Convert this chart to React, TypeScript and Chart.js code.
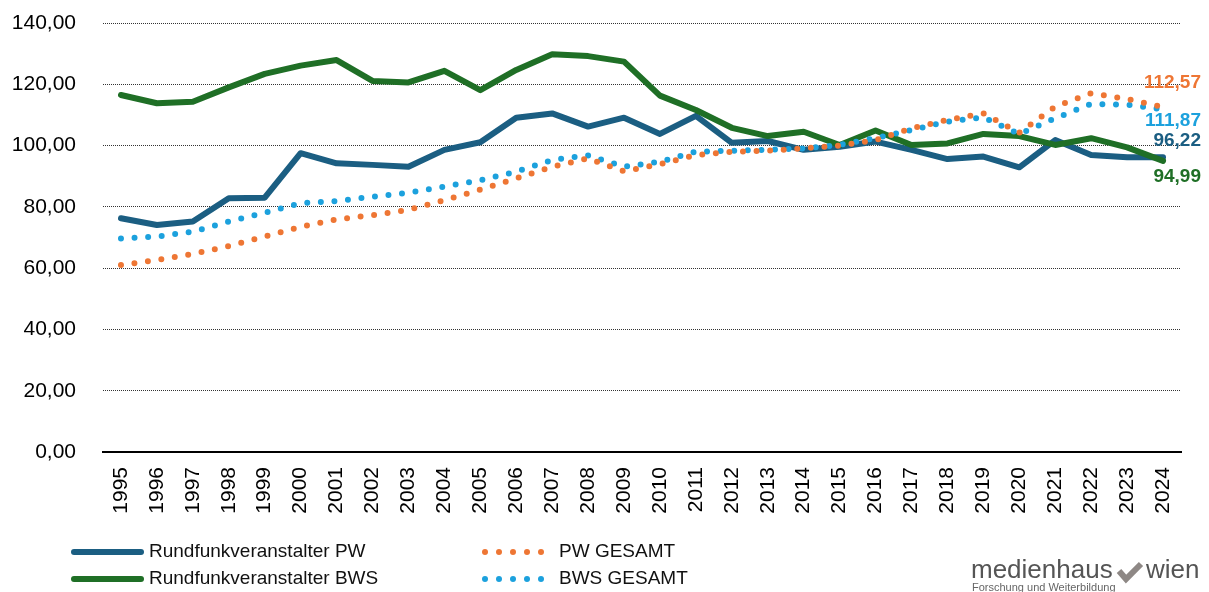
import React, { useEffect, useRef } from "react";
import { Chart, registerables } from "chart.js";

Chart.register(...registerables);

const years = [
  "1995", "1996", "1997", "1998", "1999", "2000", "2001", "2002", "2003", "2004",
  "2005", "2006", "2007", "2008", "2009", "2010", "2011", "2012", "2013", "2014",
  "2015", "2016", "2017", "2018", "2019", "2020", "2021", "2022", "2023", "2024",
];

const rundfunkPW = [
  76.3, 74.1, 75.2, 82.8, 83.0, 97.5, 94.2, 93.7, 93.1, 98.6,
  101.1, 109.1, 110.5, 106.2, 109.1, 103.8, 109.7, 100.9, 101.5, 98.6,
  99.6, 101.3, 98.6, 95.6, 96.4, 92.9, 101.8, 96.9, 96.2, 96.22,
];

const rundfunkBWS = [
  116.5, 113.8, 114.3, 119.0, 123.4, 126.1, 127.9, 121.1, 120.6, 124.4,
  118.1, 124.7, 129.8, 129.2, 127.4, 116.3, 111.6, 105.8, 103.1, 104.5,
  100.2, 104.9, 100.2, 100.7, 103.8, 103.1, 100.2, 102.4, 99.4, 94.99,
];

const pwGesamt = [
  61.0, 62.7, 64.6, 67.2, 70.3, 73.5, 75.9, 77.3, 79.0, 82.2,
  85.6, 89.3, 93.1, 95.8, 91.6, 93.9, 96.9, 98.0, 98.3, 99.1,
  100.0, 101.8, 105.6, 108.4, 110.5, 104.2, 112.7, 117.1, 115.2, 112.57,
];

const bwsGesamt = [
  69.7, 70.3, 71.9, 75.2, 78.1, 81.2, 81.9, 83.3, 84.6, 86.6,
  88.7, 91.5, 95.3, 96.8, 93.1, 94.7, 98.0, 98.3, 98.6, 99.1,
  100.2, 102.4, 105.1, 107.8, 109.2, 103.8, 108.9, 113.6, 113.3, 111.87,
];

const yTickValues = [0, 20, 40, 60, 80, 100, 120, 140];

const seriesNames = ["Rundfunkveranstalter PW", "Rundfunkveranstalter BWS", "PW GESAMT", "BWS GESAMT"];

const COLORS = {
  pw: "#1b5e82",
  bws: "#1f6f26",
  pwG: "#ee7634",
  bwsG: "#1ca1dd",
};

const fmt = (v: number) => v.toFixed(2).replace(".", ",");

// pixel offsets of the end-value labels relative to their last point
const endLabelOffsets = { pwG: -24, bwsG: 12, pw: -16, bws: 16 };

const FONT = "'Liberation Sans', Arial, sans-serif";

const overlayPlugin = {
  id: "overlay",
  afterDraw(chart: any) {
    const ctx = chart.ctx as CanvasRenderingContext2D;
    const yScale = chart.scales.y;
    ctx.save();

    // end value labels
    const ends = [
      { v: pwGesamt[pwGesamt.length - 1], c: COLORS.pwG, o: endLabelOffsets.pwG },
      { v: bwsGesamt[bwsGesamt.length - 1], c: COLORS.bwsG, o: endLabelOffsets.bwsG },
      { v: rundfunkPW[rundfunkPW.length - 1], c: COLORS.pw, o: endLabelOffsets.pw },
      { v: rundfunkBWS[rundfunkBWS.length - 1], c: COLORS.bws, o: endLabelOffsets.bws },
    ];
    ctx.font = `bold 19px ${FONT}`;
    ctx.textAlign = "right";
    ctx.textBaseline = "middle";
    for (const e of ends) {
      ctx.fillStyle = e.c;
      ctx.fillText(fmt(e.v), chart.chartArea.right + 20, yScale.getPixelForValue(e.v) + e.o);
    }

    // legend
    const row1 = 552;
    const row2 = 579;
    ctx.lineCap = "round";
    ctx.lineWidth = 6;
    ctx.strokeStyle = COLORS.pw;
    ctx.beginPath();
    ctx.moveTo(74, row1);
    ctx.lineTo(141, row1);
    ctx.stroke();
    ctx.strokeStyle = COLORS.bws;
    ctx.beginPath();
    ctx.moveTo(74, row2);
    ctx.lineTo(141, row2);
    ctx.stroke();
    for (let i = 0; i < 5; i++) {
      ctx.fillStyle = COLORS.pwG;
      ctx.beginPath();
      ctx.arc(485 + i * 14, row1, 3, 0, Math.PI * 2);
      ctx.fill();
      ctx.fillStyle = COLORS.bwsG;
      ctx.beginPath();
      ctx.arc(485 + i * 14, row2, 3, 0, Math.PI * 2);
      ctx.fill();
    }
    ctx.font = `19px ${FONT}`;
    ctx.textAlign = "left";
    ctx.fillStyle = "#111";
    ctx.fillText(seriesNames[0], 149, row1);
    ctx.fillText(seriesNames[1], 149, row2);
    ctx.fillText(seriesNames[2], 559, row1);
    ctx.fillText(seriesNames[3], 559, row2);

    // logo
    ctx.textBaseline = "alphabetic";
    ctx.fillStyle = "#555";
    ctx.font = `26px ${FONT}`;
    ctx.fillText("medienhaus", 971, 578);
    ctx.fillText("wien", 1146, 578);
    ctx.strokeStyle = "#8e8885";
    ctx.lineWidth = 6;
    ctx.lineCap = "butt";
    ctx.lineJoin = "miter";
    ctx.beginPath();
    ctx.moveTo(1119, 571);
    ctx.lineTo(1126, 579);
    ctx.lineTo(1141, 564);
    ctx.stroke();
    ctx.font = `11px ${FONT}`;
    ctx.fillStyle = "#666";
    ctx.fillText("Forschung und Weiterbildung", 972, 591);

    ctx.restore();
  },
};

export default function App() {
  const canvasRef = useRef<HTMLCanvasElement | null>(null);

  useEffect(() => {
    if (!canvasRef.current) return;
    const dotted = { borderWidth: 6, borderDash: [0, 13.6], borderCapStyle: "round" as const };
    const chart = new Chart(canvasRef.current, {
      type: "line",
      data: {
        labels: years,
        datasets: [
          { label: seriesNames[2], data: pwGesamt, borderColor: COLORS.pwG, ...dotted },
          { label: seriesNames[3], data: bwsGesamt, borderColor: COLORS.bwsG, ...dotted },
          { label: seriesNames[1], data: rundfunkBWS, borderColor: COLORS.bws, borderWidth: 6, borderCapStyle: "round", borderJoinStyle: "round" },
          { label: seriesNames[0], data: rundfunkPW, borderColor: COLORS.pw, borderWidth: 6, borderCapStyle: "round", borderJoinStyle: "round" },
        ],
      },
      options: {
        responsive: false,
        animation: false,
        devicePixelRatio: 1,
        layout: { padding: { left: 0, right: 28, top: 23, bottom: 0 } },
        elements: { point: { radius: 0 }, line: { tension: 0 } },
        plugins: { legend: { display: false }, tooltip: { enabled: false } },
        scales: {
          x: {
            offset: true,
            grid: { display: false, drawTicks: false },
            border: { display: true, color: "#000", width: 2 },
            ticks: {
              autoSkip: false,
              minRotation: 90,
              maxRotation: 90,
              padding: 15,
              color: "#000",
              font: { family: FONT, size: 21 },
            },
            afterFit: (s: any) => { s.height = 140; s.paddingLeft = 0; s.paddingRight = 0; },
          },
          y: {
            min: 0,
            max: 140,
            grid: { color: "#333", lineWidth: 1, drawTicks: false },
            border: { display: false, dash: [1, 1] },
            ticks: {
              padding: 27,
              color: "#000",
              font: { family: FONT, size: 21 },
              callback: (v: any) => fmt(Number(v)),
            },
            afterBuildTicks: (s: any) => { s.ticks = yTickValues.map((v) => ({ value: v })); },
            afterFit: (s: any) => { s.width = 103; s.paddingTop = 0; s.paddingBottom = 0; },
          },
        },
      },
      plugins: [overlayPlugin],
    });
    return () => chart.destroy();
  }, []);

  return (
    <div style={{ position: "fixed", left: 0, top: 0, width: 1209, height: 592, background: "#fff" }}>
      <canvas ref={canvasRef} width={1209} height={592} />
    </div>
  );
}
